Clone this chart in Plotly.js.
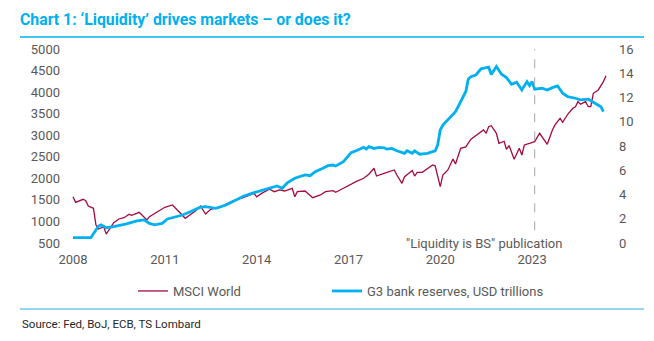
<!DOCTYPE html>
<html>
<head>
<meta charset="utf-8">
<script src="https://cdn.plot.ly/plotly-3.0.1.min.js"></script>
<style>html,body{margin:0;padding:0;background:#fff;}#chart{width:654px;height:341px;}</style>
</head>
<body>
<div id="chart"></div>
<script>
// MSCI World (left axis)
const msciDates = ['2008-01','2008-02','2008-05','2008-06','2008-07','2008-09','2008-10','2008-11','2009-01','2009-02','2009-04','2009-05','2009-07','2009-09','2009-11','2009-12','2010-03','2010-04','2010-06','2010-07','2010-10','2011-01','2011-04','2011-05','2011-07','2011-09','2011-11','2012-01','2012-03','2012-05','2012-07','2012-11','2013-01','2013-04','2013-08','2013-10','2013-12','2014-01','2014-03','2014-06','2014-08','2014-10','2014-12','2015-03','2015-04','2015-05','2015-08','2015-09','2015-11','2016-02','2016-04','2016-07','2016-08','2016-11','2017-02','2017-04','2017-07','2017-09','2017-11','2017-12','2018-03','2018-05','2018-07','2018-08','2018-10','2018-11','2019-01','2019-02','2019-03','2019-04','2019-06','2019-08','2019-10','2019-11','2020-01','2020-02','2020-04','2020-06','2020-07','2020-09','2020-11','2021-01','2021-04','2021-06','2021-07','2021-08','2021-09','2021-11','2021-12','2022-02','2022-03','2022-04','2022-06','2022-08','2022-09','2022-10','2022-12','2023-02','2023-04','2023-06','2023-07','2023-09','2023-10','2023-12','2024-01','2024-03','2024-05','2024-06','2024-07','2024-08','2024-10','2024-11','2024-12','2025-01','2025-03','2025-05','2025-06'];
const msciValues = [1574,1444,1514,1481,1358,1305,918,825,876,709,878,971,1057,1087,1166,1140,1212,1150,1034,1110,1226,1328,1382,1328,1203,1073,1150,1240,1358,1173,1282,1342,1405,1481,1560,1614,1653,1570,1650,1746,1690,1730,1706,1769,1574,1690,1706,1653,1551,1614,1690,1713,1676,1769,1869,1922,2001,2094,2233,2054,2117,2154,2194,2078,1885,2038,2131,2180,2054,2140,2140,2233,2310,2290,1806,2078,2194,2449,2333,2697,2730,2910,3045,3122,3045,3198,3221,3045,2813,2860,2674,2760,2442,2697,2542,2774,2813,2850,3045,2890,2790,3122,3238,3393,3300,3486,3625,3662,3778,3720,3778,3662,3662,3973,4050,4242,4381];

// G3 bank reserves, USD trillions (right axis)
const resDates = ['2008-01','2008-04','2008-06','2008-08','2008-10','2008-11','2008-12','2009-02','2009-03','2009-05','2009-10','2010-02','2010-05','2010-07','2010-09','2010-12','2011-02','2011-05','2011-08','2011-11','2012-01','2012-03','2012-05','2012-09','2013-01','2013-05','2013-08','2013-12','2014-04','2014-08','2014-09','2014-11','2015-01','2015-04','2015-08','2015-10','2015-12','2016-03','2016-05','2016-07','2016-08','2016-11','2017-02','2017-04','2017-07','2017-08','2017-09','2017-11','2018-01','2018-03','2018-04','2018-06','2018-08','2018-11','2018-12','2019-02','2019-03','2019-05','2019-08','2019-10','2019-11','2019-12','2020-01','2020-02','2020-05','2020-07','2020-09','2020-11','2020-12','2021-01','2021-03','2021-05','2021-08','2021-09','2021-11','2022-01','2022-03','2022-05','2022-07','2022-09','2022-11','2022-12','2023-01','2023-02','2023-05','2023-07','2023-09','2023-11','2024-01','2024-03','2024-06','2024-08','2024-11','2025-02','2025-04','2025-05'];
const resValues = [0.44,0.42,0.40,0.44,1.07,1.40,1.49,1.26,1.29,1.35,1.57,1.82,1.90,1.62,1.49,1.62,1.98,2.17,2.31,2.58,2.75,2.95,3.00,2.86,3.13,3.55,3.88,4.15,4.37,4.60,4.70,4.51,4.97,5.34,5.61,5.55,5.88,6.16,6.38,6.43,6.35,6.71,7.45,7.61,7.89,7.75,7.95,7.80,7.89,7.85,7.75,7.80,7.61,7.40,7.61,7.40,7.60,7.32,7.40,7.53,7.60,8.08,9.32,9.73,10.42,10.83,11.66,12.50,13.53,13.72,13.86,14.36,14.50,13.90,14.55,13.92,13.64,13.09,13.26,12.62,13.31,12.98,13.31,12.68,12.76,12.62,12.81,12.95,12.35,12.07,11.94,11.80,11.86,11.52,11.24,10.83];

const tickDates = ['2008-01-01','2011-01-01','2014-01-01','2017-01-01','2020-01-01','2023-01-01'];
const tickLabels = ['2008','2011','2014','2017','2020','2023'];
const pubDate = '2023-02-01';
const pubLabel = '"Liquidity is BS" publication';

const gray = '#595959';
const tickFont = {family: 'Roboto, sans-serif', size: 13, color: gray};
const legendFont = {family: 'Roboto, sans-serif', size: 13, color: gray};

const traces = [
  {x: msciDates, y: msciValues, type: 'scatter', mode: 'lines', name: 'MSCI World',
   line: {color: '#A50B3C', width: 1.3}, yaxis: 'y', legend: 'legend'},
  {x: resDates, y: resValues, type: 'scatter', mode: 'lines', name: 'G3 bank reserves, USD trillions',
   line: {color: '#00B0F0', width: 2.8}, yaxis: 'y2', legend: 'legend2'}
];

const legY = (243 - 291) / 194;

const layout = {
  width: 654, height: 341,
  margin: {l: 72, r: 46, t: 49, b: 98},
  paper_bgcolor: '#ffffff', plot_bgcolor: '#ffffff',
  showlegend: true,
  title: {
    text: 'Chart 1: ‘Liquidity’ drives markets – or does it?',
    font: {family: 'Roboto, sans-serif', size: 15.8, color: '#00B0F0', weight: 'bold'},
    xref: 'container', yref: 'container', x: 20/654, xanchor: 'left', y: 1 - 19/341, yanchor: 'middle'
  },
  xaxis: {
    type: 'date', range: ['2007-12-20', '2025-06-25'],
    tickmode: 'array', tickvals: tickDates, ticktext: tickLabels,
    showgrid: false, zeroline: false, showline: false, ticks: '',
    tickfont: tickFont, ticklabelstandoff: 7
  },
  yaxis: {
    range: [500, 5000], dtick: 500, tick0: 500,
    showgrid: false, zeroline: false, showline: false, ticks: '',
    tickfont: tickFont, ticklabelstandoff: 11
  },
  yaxis2: {
    range: [0, 16], dtick: 2, tick0: 0, overlaying: 'y', side: 'right',
    showgrid: false, zeroline: false, showline: false, ticks: '',
    tickfont: tickFont, ticklabelstandoff: 10
  },
  legend: {
    orientation: 'h', x: (133 - 72) / 536, xanchor: 'left',
    y: legY, yanchor: 'middle', font: legendFont, bgcolor: 'rgba(0,0,0,0)'
  },
  legend2: {
    orientation: 'h', x: (327 - 72) / 536, xanchor: 'left',
    y: legY, yanchor: 'middle', font: legendFont, bgcolor: 'rgba(0,0,0,0)'
  },
  shapes: [
    {type: 'line', xref: 'paper', yref: 'paper', x0: (20 - 72) / 536, x1: (644 - 72) / 536,
     y0: (243 - 37) / 194, y1: (243 - 37) / 194, line: {color: '#00B0F0', width: 1.5}},
    {type: 'line', xref: 'paper', yref: 'paper', x0: (20 - 72) / 536, x1: (644 - 72) / 536,
     y0: (243 - 309) / 194, y1: (243 - 309) / 194, line: {color: '#2EAEE8', width: 1.2}},
    {type: 'line', xref: 'x', yref: 'y2', x0: pubDate, x1: pubDate, y0: 1.05, y1: 16,
     line: {color: '#A6A6A6', width: 1, dash: 'dash'}}
  ],
  annotations: [
    {text: pubLabel, xref: 'x', yref: 'y2', x: pubDate, y: 0, xanchor: 'center', yanchor: 'middle',
     xshift: -51, showarrow: false, font: {family: 'Roboto, sans-serif', size: 13, color: gray}},
    {text: 'Source: Fed, BoJ, ECB, TS Lombard', xref: 'paper', yref: 'paper',
     x: (20 - 72) / 536, y: (243 - 324) / 194, xanchor: 'left', yanchor: 'middle', showarrow: false,
     font: {family: 'Roboto, sans-serif', size: 11.5, color: '#262626'}}
  ]
};

Plotly.newPlot('chart', traces, layout, {displayModeBar: false, staticPlot: true});
</script>
</body>
</html>
